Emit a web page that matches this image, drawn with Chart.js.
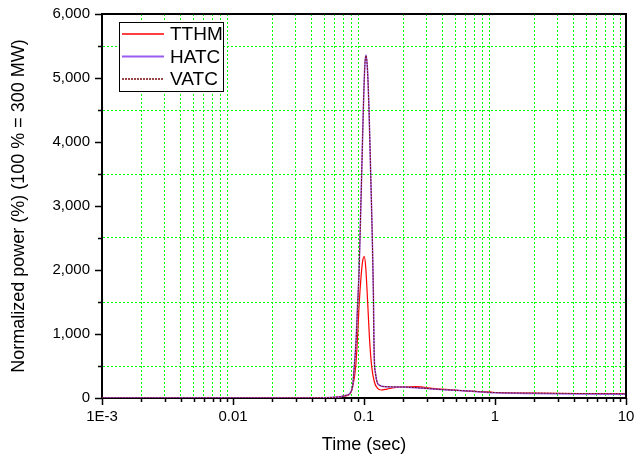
<!DOCTYPE html>
<html>
<head>
<meta charset="utf-8">
<title>Normalized power</title>
<script src="https://cdn.jsdelivr.net/npm/chart.js@4/dist/chart.umd.min.js"></script>
<style>
    html, body { margin: 0; padding: 0; background: #fff; }
    #wrap { width: 635px; height: 462px; }
</style>
</head>
<body>
<div id="wrap"><canvas id="ControlPowerChart" width="635" height="462"></canvas></div>
<script>
// time axis (sec) and power (%)
var timeTTHM = [0.001, 0.01, 0.03, 0.05, 0.06, 0.07, 0.078, 0.082, 0.0864, 0.089, 0.092, 0.095, 0.0975, 0.1005,
    0.103, 0.1067, 0.11, 0.1145, 0.12, 0.127, 0.135, 0.15, 0.17, 0.2, 0.25, 0.35, 0.6, 1, 2, 5, 10];
var powerTTHM = [0, 0, 1, 4, 10, 28, 60, 180, 490, 900, 1490, 1900, 2130, 2208,
    2050, 1490, 950, 490, 250, 150, 125, 140, 160, 172, 177, 145, 112, 86, 75, 69, 66];

var timeATC = [0.001, 0.01, 0.03, 0.05, 0.06, 0.066, 0.072, 0.078, 0.082, 0.0843, 0.087, 0.0895, 0.0916, 0.0932,
    0.096, 0.0988, 0.1015, 0.1036, 0.1065, 0.1092, 0.1125, 0.1157, 0.118, 0.1195, 0.1225, 0.1264, 0.133, 0.14,
    0.19, 0.25, 0.36, 0.61, 1, 2, 5, 10];
var powerHATC = [0, 0, 1, 5, 12, 20, 40, 73, 200, 490, 900, 1490, 1950, 2500,
    3500, 4500, 5200, 5360, 5100, 4500, 3500, 2500, 1600, 700, 380, 240, 195, 180,
    172, 160, 135, 109, 82, 70, 62, 58];
var powerVATC = [0, 0, 1, 5, 12, 20, 40, 73, 200, 490, 900, 1490, 1950, 2500,
    3500, 4500, 5200, 5350, 5100, 4500, 3500, 2500, 1600, 700, 380, 240, 195, 180,
    173, 162, 137, 111, 85, 76, 70, 66];

var seriesNames = ['TTHM', 'HATC', 'VATC'];
var xTickValues = [];
for (var e = -3; e <= 0; e++) {
    for (var m = 1; m <= 9; m++) {
        xTickValues.push(m * Math.pow(10, e));
    }
}
xTickValues.push(10);
var xTickLabels = { '-3': '1E-3', '-2': '0.01', '-1': '0.1', '0': '1', '1': '10' };

function isDecade(v) {
    var l = Math.log10(v);
    return Math.abs(l - Math.round(l)) < 1e-6;
}

function toPoints(xs, ys) {
    var pts = [];
    for (var i = 0; i < xs.length; i++) {
        pts.push({ x: xs[i], y: ys[i] });
    }
    return pts;
}

// top/right frame, tick marks and the boxed legend
var framePlugin = {
    id: 'framePlugin',
    afterDraw: function (chart) {
        var ctx = chart.ctx;
        var area = chart.chartArea;
        var xs = chart.scales.x;
        var ys = chart.scales.y;

        ctx.save();
        ctx.strokeStyle = '#000';
        ctx.lineWidth = 2;
        ctx.beginPath();
        ctx.moveTo(area.left, area.top);
        ctx.lineTo(area.right, area.top);
        ctx.lineTo(area.right, area.bottom);
        ctx.stroke();

        ctx.lineWidth = 1.5;
        ctx.beginPath();
        xs.ticks.forEach(function (t) {
            var px = Math.round(xs.getPixelForValue(t.value)) + 0.5;
            var len = isDecade(t.value) ? 7 : 4;
            ctx.moveTo(px, area.bottom);
            ctx.lineTo(px, area.bottom + len);
        });
        ys.ticks.forEach(function (t) {
            var py = Math.round(ys.getPixelForValue(t.value)) + 0.5;
            var len = t.value % 1000 === 0 ? 7 : 4;
            ctx.moveTo(area.left, py);
            ctx.lineTo(area.left - len, py);
        });
        ctx.stroke();

        // legend
        var bx = area.left + 17, by = area.top + 8, bw = 104, bh = 69;
        ctx.fillStyle = '#fff';
        ctx.fillRect(bx, by, bw, bh);
        ctx.lineWidth = 1;
        ctx.strokeStyle = '#000';
        ctx.strokeRect(bx + 0.5, by + 0.5, bw, bh);
        ctx.font = '19px "Liberation Sans", Arial, sans-serif';
        ctx.textBaseline = 'middle';
        chart.data.datasets.forEach(function (ds, i) {
            var ly = by + 12 + i * 22.5;
            ctx.save();
            ctx.strokeStyle = ds.borderColor;
            ctx.lineWidth = ds.borderWidth + 0.3;
            ctx.setLineDash(ds.borderDash || []);
            ctx.beginPath();
            ctx.moveTo(bx + 3, ly);
            ctx.lineTo(bx + 45, ly);
            ctx.stroke();
            ctx.restore();
            ctx.fillStyle = '#000';
            ctx.fillText(ds.label, bx + 51, ly + 1);
        });
        ctx.restore();
    }
};

Chart.defaults.font.family = '"Liberation Sans", Arial, sans-serif';
Chart.defaults.font.size = 15;
Chart.defaults.color = '#000';

var ctxP = document.getElementById('ControlPowerChart').getContext('2d');
var powerChart = new Chart(ctxP, {
    type: 'line',
    data: {
        datasets: [{
            label: seriesNames[0],
            data: toPoints(timeTTHM, powerTTHM),
            borderColor: '#ff0000',
            borderWidth: 1.2,
            order: 3
        },
        {
            label: seriesNames[1],
            data: toPoints(timeATC, powerHATC),
            borderColor: '#9a5cf0',
            borderWidth: 1.5,
            order: 2
        },
        {
            label: seriesNames[2],
            data: toPoints(timeATC, powerVATC),
            borderColor: '#7a0a0a',
            borderWidth: 1,
            borderDash: [2, 1],
            order: 1
        }]
    },
    options: {
        responsive: false,
        animation: false,
        events: [],
        layout: { padding: { top: 14, right: 9, left: 4, bottom: 2 } },
        elements: {
            point: { radius: 0 },
            line: { cubicInterpolationMode: 'monotone', fill: false }
        },
        plugins: {
            legend: { display: false },
            tooltip: { enabled: false }
        },
        scales: {
            x: {
                type: 'logarithmic',
                min: 0.001,
                max: 10,
                afterBuildTicks: function (scale) {
                    scale.ticks = xTickValues.map(function (v) { return { value: v }; });
                },
                afterFit: function (scale) {
                    scale.height = 62;
                    scale.paddingLeft = 0;
                    scale.paddingRight = 0;
                },
                ticks: {
                    autoSkip: false,
                    maxRotation: 0,
                    padding: 10,
                    callback: function (value) {
                        if (!isDecade(value)) return '';
                        return xTickLabels[String(Math.round(Math.log10(value)))];
                    }
                },
                grid: {
                    drawTicks: false,
                    lineWidth: 1,
                    color: function (c) {
                        if (!c.tick || isDecade(c.tick.value)) return 'rgba(0,0,0,0)';
                        return '#00ff00';
                    }
                },
                border: { display: true, color: '#000', width: 2, dash: [2, 2] },
                title: { display: true, text: 'Time (sec)', font: { size: 18 } }
            },
            y: {
                min: 0,
                max: 6000,
                afterFit: function (scale) {
                    scale.width = 98;
                    scale.paddingTop = 0;
                    scale.paddingBottom = 0;
                },
                ticks: {
                    stepSize: 500,
                    autoSkip: false,
                    padding: 12,
                    callback: function (value) {
                        return value % 1000 === 0 ? value.toLocaleString('en-US') : '';
                    }
                },
                grid: {
                    drawTicks: false,
                    lineWidth: 1,
                    color: function (c) {
                        if (!c.tick || c.tick.value % 1000 === 0) return 'rgba(0,0,0,0)';
                        return '#00ff00';
                    }
                },
                border: { display: true, color: '#000', width: 2, dash: [2, 2] },
                title: { display: true, text: 'Normalized power (%) (100 % = 300 MW)', font: { size: 18 } }
            }
        }
    },
    plugins: [framePlugin]
});
</script>
</body>
</html>
